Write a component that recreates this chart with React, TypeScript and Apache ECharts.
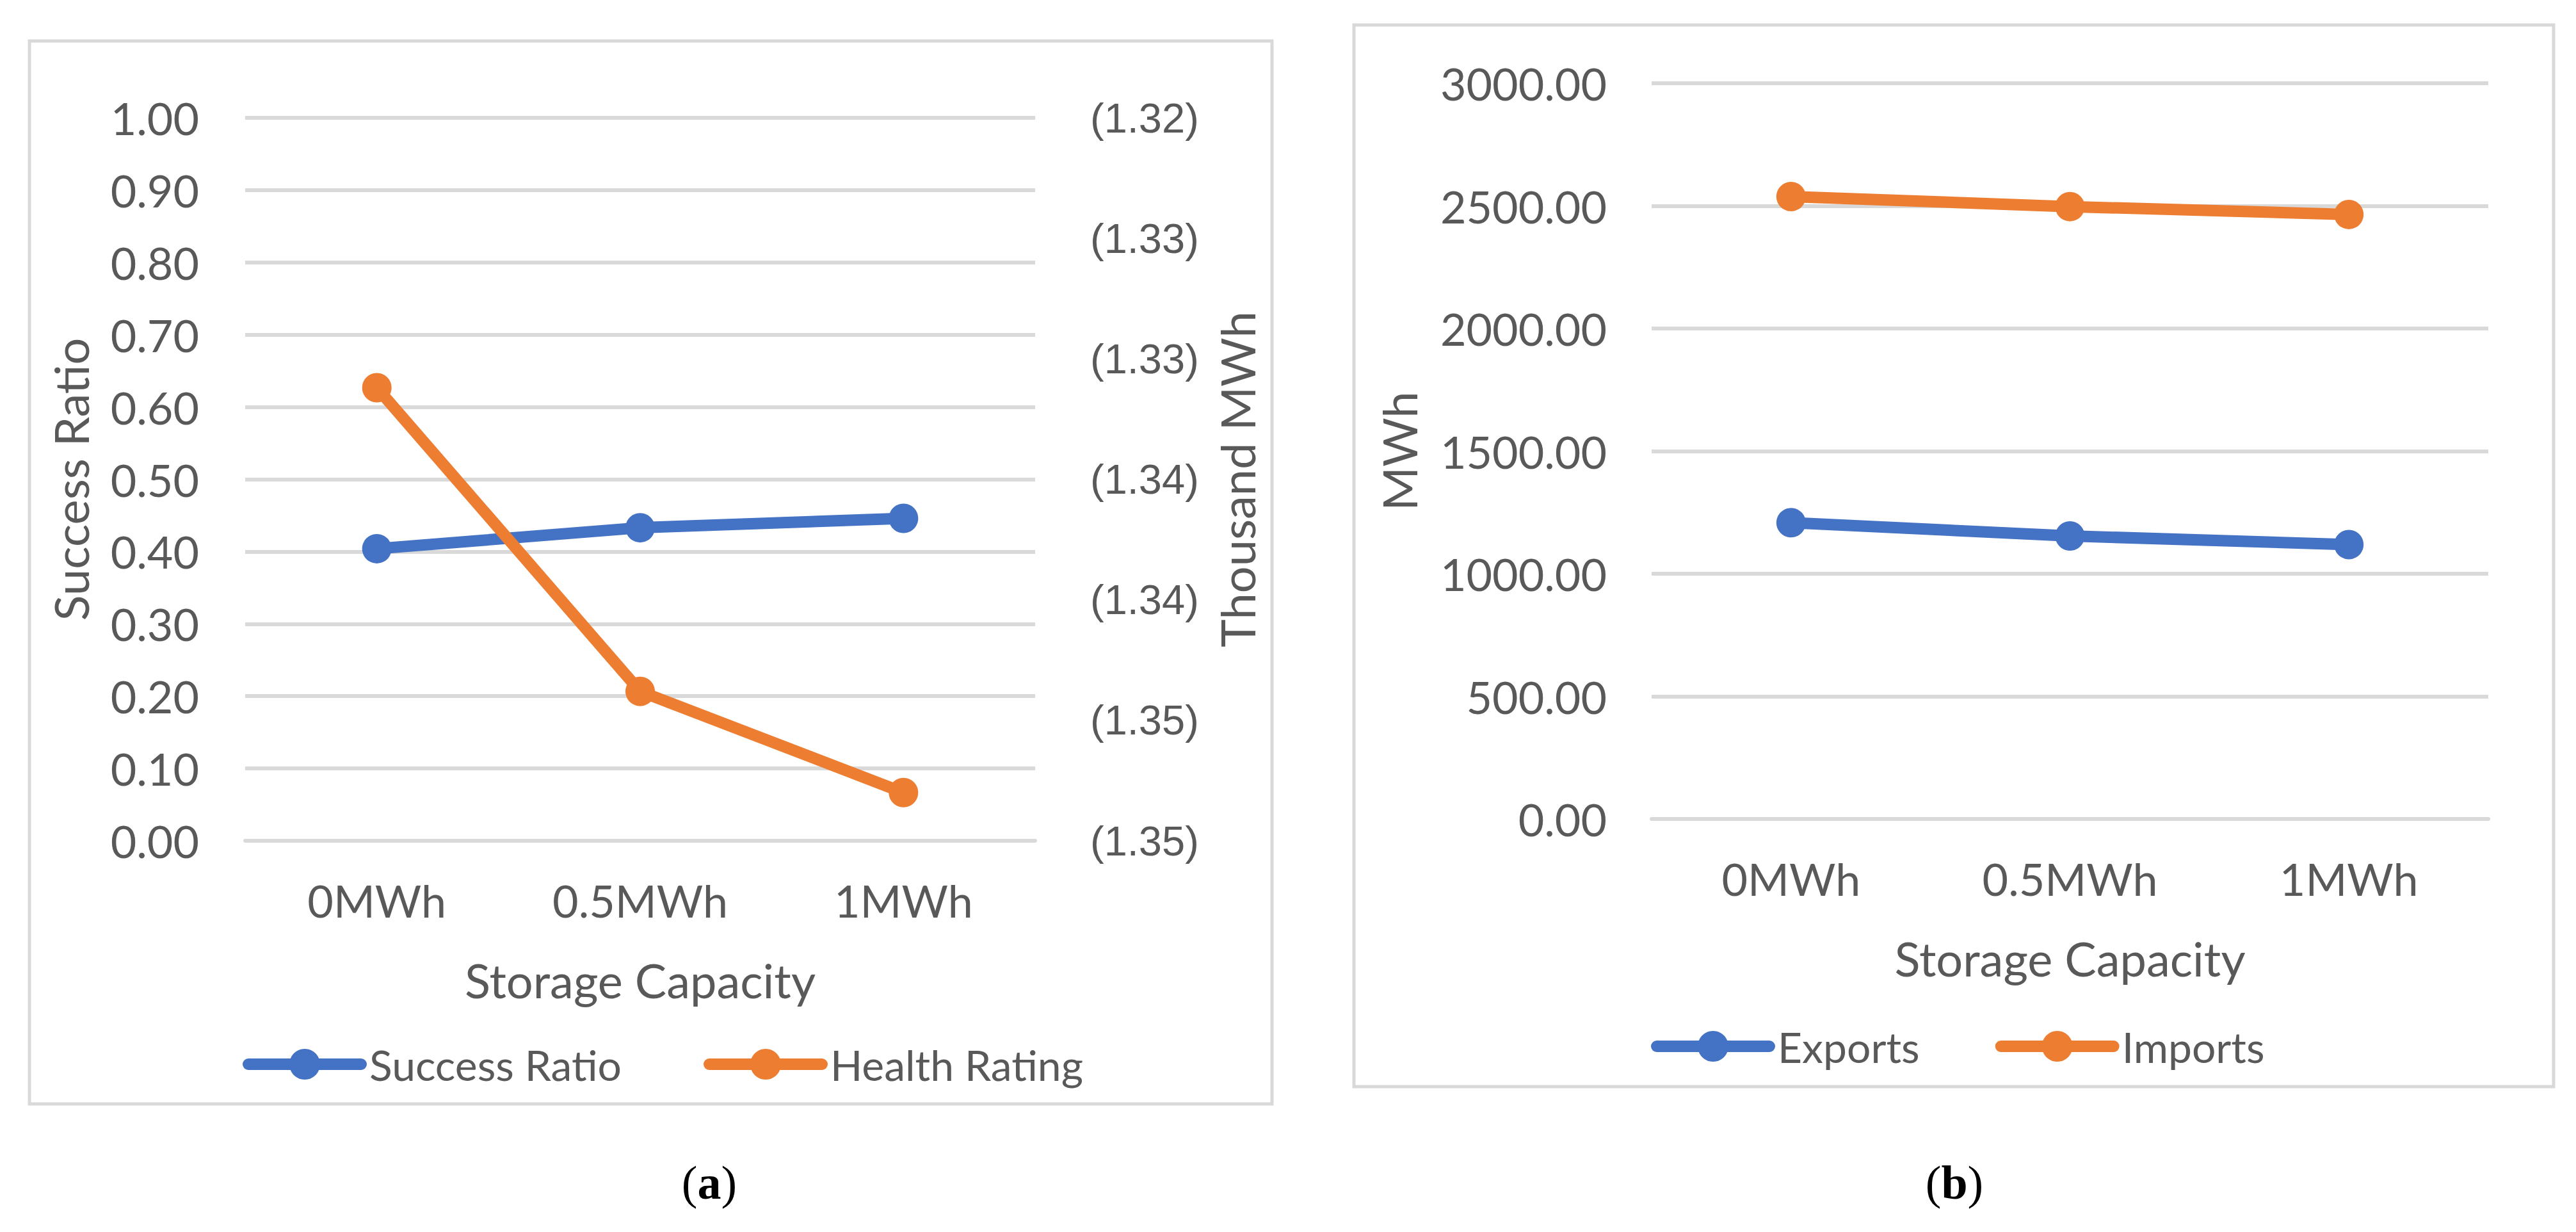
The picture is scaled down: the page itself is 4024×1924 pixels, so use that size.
import React, { useEffect, useRef } from "react";
import * as echarts from "echarts";

const categories = ["0MWh", "0.5MWh", "1MWh"];
const successRatio = [0.404, 0.433, 0.446];
// Health Rating in MWh (negative, shown in thousands with accounting brackets)
const healthRating = [-1331.2, -1343.8, -1348.0];
const exportsMWh = [1208, 1154, 1119];
const importsMWh = [2538, 2497, 2465];
const rightAxisLabels = ["(1.35)", "(1.35)", "(1.34)", "(1.34)", "(1.33)", "(1.33)", "(1.32)"];

const BLUE = "#4472C4";
const ORANGE = "#ED7D31";
const TXT = "#595959";
const GRID = "#D9D9D9";
const FONT = "Lato";

export default function App() {
  const ref = useRef<HTMLDivElement>(null);
  useEffect(() => {
    if (!ref.current) return;
    const chart = echarts.init(ref.current, null, { renderer: "svg" });
    const lineSeries = (name: string, color: string, data: number[], xi: number, yi: number) => ({
      name,
      type: "line",
      xAxisIndex: xi,
      yAxisIndex: yi,
      data,
      symbol: "circle",
      symbolSize: 46,
      lineStyle: { color, width: 18, cap: "round" },
      itemStyle: { color },
      z: 3,
    });
    const xAxisBase = (gi: number) => ({
      type: "category",
      gridIndex: gi,
      data: categories,
      boundaryGap: true,
      axisLine: { show: true, lineStyle: { color: GRID, width: 6 } },
      axisTick: { show: false },
      axisLabel: { color: TXT, fontSize: 70, fontFamily: FONT, margin: 58 },
      name: "Storage Capacity",
      nameLocation: "middle",
      nameGap: 180,
      nameTextStyle: { color: TXT, fontSize: 74, fontFamily: FONT },
    });
    const legendBase = {
      itemWidth: 176,
      itemHeight: 60,
      lineStyle: { width: 18, cap: "round" },
      textStyle: { color: TXT, fontSize: 66, fontFamily: FONT, padding: [0, 0, 0, 8] },
    };
    chart.setOption({
      animation: false,
      backgroundColor: "#ffffff",
      grid: [
        { left: 383, top: 184, width: 1234, height: 1129 },
        { left: 2580, top: 130, width: 1307, height: 1149 },
      ],
      xAxis: [xAxisBase(0), xAxisBase(1)],
      yAxis: [
        {
          type: "value",
          gridIndex: 0,
          min: 0,
          max: 1,
          interval: 0.1,
          axisLine: { show: false },
          axisTick: { show: false },
          splitLine: { show: true, lineStyle: { color: GRID, width: 6 } },
          axisLabel: {
            color: TXT,
            fontSize: 70,
            fontFamily: FONT,
            margin: 72,
            formatter: (v: number) => v.toFixed(2),
          },
          name: "Success Ratio",
          nameLocation: "middle",
          nameGap: 236,
          nameTextStyle: { color: TXT, fontSize: 74, fontFamily: FONT },
        },
        {
          type: "value",
          gridIndex: 0,
          position: "right",
          min: -1350,
          max: -1320,
          interval: 5,
          axisLine: { show: false },
          axisTick: { show: false },
          splitLine: { show: false },
          axisLabel: {
            color: TXT,
            fontSize: 65,
            fontFamily: "Liberation Sans",
            margin: 86,
            formatter: (_v: number, i: number) => rightAxisLabels[i] ?? "",
          },
          name: "Thousand MWh",
          nameLocation: "middle",
          nameGap: 278,
          nameRotate: 90,
          nameTextStyle: { color: TXT, fontSize: 74, fontFamily: FONT },
        },
        {
          type: "value",
          gridIndex: 1,
          min: 0,
          max: 3000,
          interval: 500,
          axisLine: { show: false },
          axisTick: { show: false },
          splitLine: { show: true, lineStyle: { color: GRID, width: 6 } },
          axisLabel: {
            color: TXT,
            fontSize: 70,
            fontFamily: FONT,
            margin: 70,
            formatter: (v: number) => v.toFixed(2),
          },
          name: "MWh",
          nameLocation: "middle",
          nameGap: 358,
          nameTextStyle: { color: TXT, fontSize: 74, fontFamily: FONT },
        },
      ],
      legend: [
        {
          ...legendBase,
          data: ["Success Ratio", "Health Rating"],
          left: 374,
          top: 1654 - 30,
          itemGap: 128,
        },
        {
          ...legendBase,
          data: ["Exports", "Imports"],
          left: 2574,
          top: 1626 - 30,
          itemGap: 118,
        },
      ],
      series: [
        lineSeries("Success Ratio", BLUE, successRatio, 0, 0),
        lineSeries("Health Rating", ORANGE, healthRating, 0, 1),
        lineSeries("Exports", BLUE, exportsMWh, 1, 2),
        lineSeries("Imports", ORANGE, importsMWh, 1, 2),
      ],
      graphic: [
        {
          type: "rect",
          shape: { x: 46, y: 64, width: 1941, height: 1660 },
          style: { fill: "none", stroke: GRID, lineWidth: 5 },
          z: -1,
        },
        {
          type: "rect",
          shape: { x: 2115, y: 39, width: 1874, height: 1658 },
          style: { fill: "none", stroke: GRID, lineWidth: 5 },
          z: -1,
        },
        {
          type: "text",
          x: 1108,
          y: 1847,
          style: {
            text: "({b|a})",
            fill: "#000",
            font: "74px 'Liberation Serif'",
            align: "center",
            verticalAlign: "middle",
            rich: { b: { fontWeight: "bold", fontSize: 74, fontFamily: "Liberation Serif", fill: "#000" } },
          },
        },
        {
          type: "text",
          x: 3053,
          y: 1847,
          style: {
            text: "({b|b})",
            fill: "#000",
            font: "74px 'Liberation Serif'",
            align: "center",
            verticalAlign: "middle",
            rich: { b: { fontWeight: "bold", fontSize: 74, fontFamily: "Liberation Serif", fill: "#000" } },
          },
        },
      ],
    });
    return () => chart.dispose();
  }, []);
  return (
    <div
      ref={ref}
      style={{ position: "fixed", left: 0, top: 0, width: 4024, height: 1924, background: "#fff" }}
    />
  );
}
